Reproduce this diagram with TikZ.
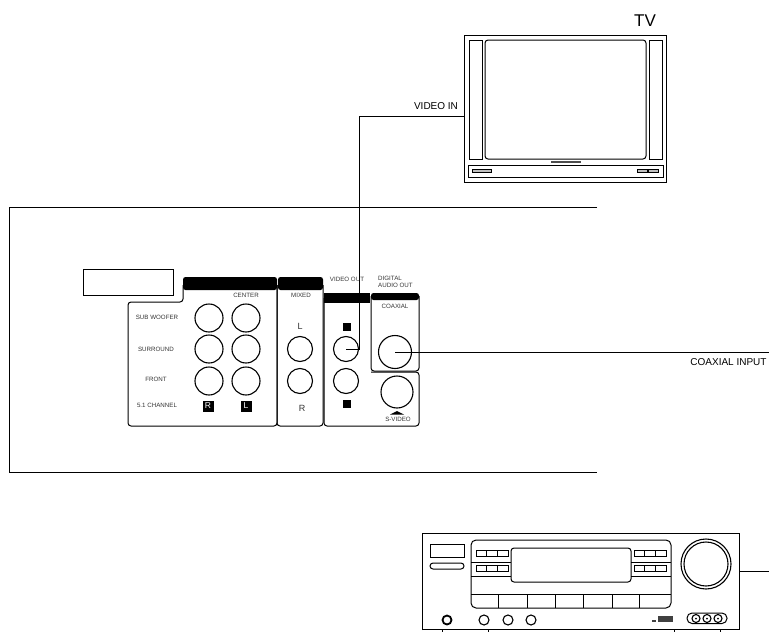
\documentclass[tikz,border=0pt]{standalone}
\usepackage{fontspec}
\setmainfont{Liberation Sans}
\usepackage{xcolor}
\usetikzlibrary{calc}

\tikzset{
    wire/.style={line width=0.9pt},
    part/.style={draw, line width=1pt},
    jack/.style={draw, circle, line width=1.1pt, minimum size=#1, inner sep=0pt},
    tiny/.style={font=\fontsize{6.2}{7}\selectfont, text=black!80, inner sep=0pt},
    plate/.style={fill=black, inner sep=0pt},
    callout/.style={font=\fontsize{10}{11}\selectfont, inner sep=0pt},
}

\begin{document}
\begin{tikzpicture}[x=1pt, y=-1pt]
    \useasboundingbox (0,0) rectangle (769,632);

    % rear panel
    \coordinate (rearTop) at (597,207);
    \coordinate (rearBot) at (597,472);
    \draw[wire] (rearTop) -- (9,207) -- (9,472) -- (rearBot);
    \node[part, minimum width=90pt, minimum height=26pt, inner sep=0pt] (blank) at (128,282) {};

    % connector blocks
    \draw[part, rounded corners=3pt] (183,285) -- (183,302) -- (128,302) -- (128,426) -- (277,426) -- (277,285);
    \fill[rounded corners=2.5pt] (183,290) -- (183,277) -- (277,277) -- (277,290) -- cycle;
    \draw[part, rounded corners=3pt] (277,285) -- (277,426) -- (323,426) -- (323,285);
    \fill[rounded corners=2.5pt] (278,290) -- (278,277) -- (323,277) -- (323,290) -- cycle;
    \draw[part, rounded corners=3pt] (324,298) -- (324,426) -- (419,426) -- (419,372) -- (371,372);
    \fill (324,303) -- (324,293) -- (370,293) -- (370,303) -- cycle;
    \draw[part, rounded corners=3pt] (371,296) -- (371,371) -- (419,371) -- (419,296);
    \fill[rounded corners=2.5pt] (371,300) -- (371,293) -- (419,293) -- (419,300) -- cycle;

    % jacks
    \node[jack=28pt] (subR) at (209,318) {};
    \node[jack=28pt] (subL) at (246,318) {};
    \node[jack=28pt] (surR) at (209,349) {};
    \node[jack=28pt] (surL) at (246,349) {};
    \node[jack=28pt] (froR) at (209,381) {};
    \node[jack=28pt] (froL) at (246,381) {};
    \node[jack=25pt] (mixL) at (300,349) {};
    \node[jack=25pt] (mixR) at (300,381) {};
    \node[jack=25pt] (vidA) at (346,349) {};
    \node[jack=25pt] (vidB) at (346,381) {};
    \node[jack=33pt] (coax) at (395,352) {};
    \node[jack=32pt] (svid) at (397,392) {};

    % labels on the panel
    \node[tiny] (lblCenter) at (246,295) {CENTER};
    \node[tiny] (lblMixed) at (301,295) {MIXED};
    \node[tiny] (lblSub) at (157,317) {SUB WOOFER};
    \node[tiny] (lblSur) at (156,349) {SURROUND};
    \node[tiny] (lblFront) at (156,379) {FRONT};
    \node[tiny] (lblCh) at (157,405) {5.1 CHANNEL};
    \node[tiny] (lblVid) at (347,279) {VIDEO OUT};
    \node[tiny, align=left, anchor=west] (lblDig) at (378,282) {DIGITAL\\AUDIO OUT};
    \node[tiny] (lblCoax) at (395,306) {COAXIAL};
    \node[tiny] (lblSvid) at (398,419) {S-VIDEO};
    \node[inner sep=0pt, font=\fontsize{9}{10}\selectfont, text=black!80] (lblL) at (300,326) {L};
    \node[inner sep=0pt, font=\fontsize{9}{10}\selectfont, text=black!80] (lblR) at (302,408) {R};
    \node[plate, minimum size=8pt] (markA) at (347,327) {};
    \node[plate, minimum size=8pt] (markB) at (347,404) {};
    \node[plate, minimum size=11pt, text=white, font=\fontsize{8.5}{9}\selectfont] (plateR) at (208,406) {R};
    \node[plate, minimum size=11pt, text=white, font=\fontsize{8.5}{9}\selectfont] (plateL) at (246,406) {L};
    \fill (390,414.5) -- (397,411) -- (404,414.5) -- cycle;

    % TV
    \node[part, minimum width=202pt, minimum height=147pt, inner sep=0pt] (tv) at (565,108.5) {};
    \node[font=\fontsize{17}{18}\selectfont, inner sep=0pt] (tvName) at (645,21) {TV};
    \draw[part] (469,40) rectangle (482,159);
    \draw[part, rounded corners=3pt] (485,40) rectangle (646,159);
    \draw[part] (649,40) rectangle (662,159);
    \draw[part] (468,165) rectangle (663,177);
    \fill[black!70] (551,161) rectangle (581,163);
    \draw[line width=0.7pt, fill=black!25] (472,169) rectangle (491,172);
    \draw[line width=0.7pt, fill=black!25] (637,169) rectangle (647,172);
    \draw[line width=0.7pt, fill=black!25] (648,169) rectangle (658,172);

    % cables
    \coordinate (tvIn) at (tv.west |- 0,116);
    \draw[wire] (vidA.center) -- (359,349) -- (359,116) -- (tvIn);
    \node[callout] (lblIn) at (436,106) {VIDEO IN};
    \coordinate (coaxEnd) at (769,352);
    \draw[wire] (coax.center) -- (coaxEnd);
    \node[callout] (lblOut) at (728.5,362) {COAXIAL INPUT};

    % receiver
    \draw[part] (422,630) -- (422,533) -- (739,533) -- (739,630);
    \draw[part] (422,629.5) -- (739,629.5);
    \foreach \x in {442,488,674,720} {
        \draw[part] (\x,629.5) -- (\x,632);
    }
    \coordinate (recvOut) at (739,571);
    \coordinate (recvEnd) at (769,571);
    \draw[wire] (recvOut) -- (recvEnd);
    \draw[part] (430,544) rectangle (464,557);
    \draw[part, rounded corners=3pt] (430,563) rectangle (464,569);
    \draw[part, rounded corners=5pt] (471,540) rectangle (671,608);
    \draw[part, rounded corners=3pt, fill=white] (511,548) rectangle (631,582);
    \foreach \y in {562,576} {
        \draw[part] (471,\y) -- (511,\y);
        \draw[part] (631,\y) -- (671,\y);
    }
    \draw[part] (471,594) -- (671,594);
    \foreach \x in {498,527,555,583,612,639} {
        \draw[part] (\x,594) -- (\x,608);
    }
    \foreach \x/\y in {476/550,476/565,634/550,634/565} {
        \draw[part] (\x,\y) rectangle ++(32,6);
        \draw[part] (\x+10,\y) -- ++(0,6);
        \draw[part] (\x+21,\y) -- ++(0,6);
    }
    \node[jack=50pt] (knobA) at (706,564) {};
    \node[jack=44pt] (knobB) at (706,564) {};
    \node[draw, circle, line width=1.8pt, minimum size=9pt, inner sep=0pt] (phones) at (447,620) {};
    \foreach \x/\n in {484/a,508/b,531/c} {
        \node[jack=10pt] (btn\n) at (\x,620) {};
    }
    \draw[part, rounded corners=5pt] (687,613) rectangle (727,623.5);
    \foreach \x/\n in {696/a,707/b,718/c} {
        \node[jack=8pt] (av\n) at (\x,618.5) {};
        \fill (\x,618.5) circle (1pt);
    }
    \fill[black!75] (658,615.5) rectangle (673,621.5);
    \fill[black!75] (652,619.5) rectangle (656,621.5);
\end{tikzpicture}
\end{document}
